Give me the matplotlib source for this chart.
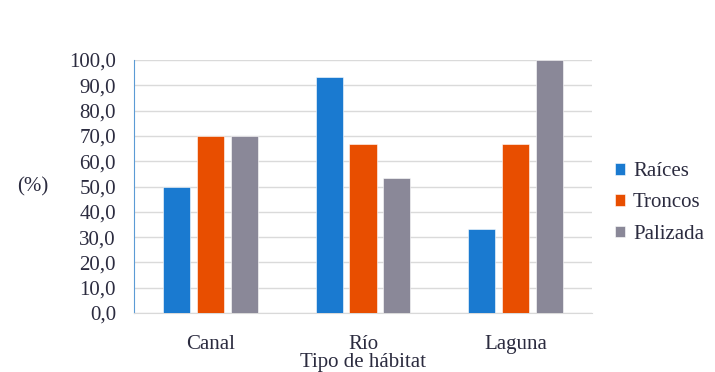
import matplotlib.pyplot as plt
import numpy as np

# data
habitats = ['Canal', 'Río', 'Laguna']
raices = [50.0, 93.3, 33.3]
troncos = [70.0, 66.7, 66.7]
palizada = [70.0, 53.3, 100.0]
series_names = ['Raíces', 'Troncos', 'Palizada']
colors = ['#1a7ad0', '#e84e00', '#8a8898']
yticks = np.arange(0, 101, 10)

serif = ['Liberation Serif', 'DejaVu Serif']
plt.rcParams['font.family'] = serif
text_color = '#2b2b3f'
fsize = 15

fig = plt.figure(figsize=(7.15, 3.72), dpi=100)
ax = fig.add_axes([134 / 715, 1 - 313 / 372, 458 / 715, 253 / 372])

x = np.arange(len(habitats))
width = 0.177
step = 0.222
for i, (vals, name, c) in enumerate(zip([raices, troncos, palizada], series_names, colors)):
    ax.bar(x + (i - 1) * step, vals, width, color=c, label=name,
           edgecolor='white', linewidth=0.4, zorder=3)

ax.set_xlim(-0.5, 2.5)
ax.set_ylim(0, 100)
ax.set_yticks(yticks)
ax.set_yticklabels([f'{v:.1f}'.replace('.', ',') for v in yticks])
ax.set_xticks(x)
ax.set_xticklabels(habitats)
ax.grid(axis='y', color='#dadada', linewidth=1, zorder=0)
ax.tick_params(length=0, labelsize=fsize, colors=text_color)
ax.tick_params(axis='y', pad=13)
ax.tick_params(axis='x', pad=15.5)
for s in ['top', 'right']:
    ax.spines[s].set_visible(False)
ax.spines['left'].set_color('#5b9bd5')
ax.spines['bottom'].set_color('#d9d9d9')

fig.text(17 / 715, 1 - 187 / 372, '(%)', fontsize=fsize, color=text_color,
         ha='left', va='center')
fig.text(363 / 715, 1 - 362 / 372, 'Tipo de hábitat', fontsize=fsize,
         color=text_color, ha='center', va='center')

leg = ax.legend(loc='center left', bbox_to_anchor=(1.01, 0.435), frameon=False,
                fontsize=fsize, handlelength=0.45, handleheight=0.45,
                handletextpad=0.4, labelspacing=0.58)
for t in leg.get_texts():
    t.set_color(text_color)

fig.savefig('out.png', dpi=100)
